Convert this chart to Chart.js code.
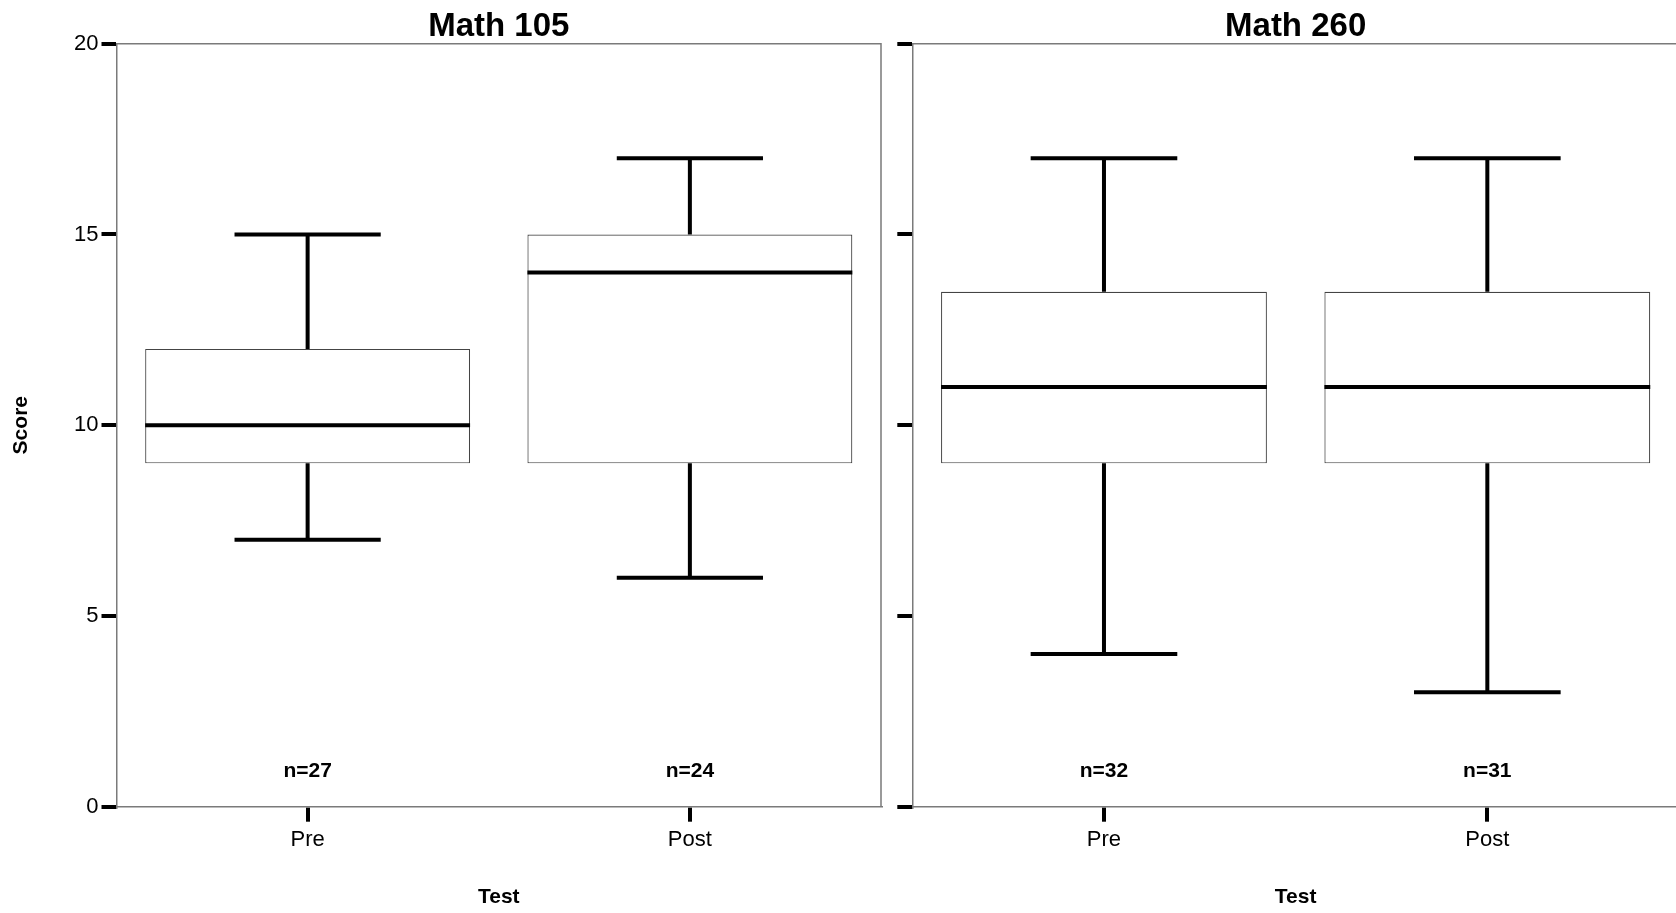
<!DOCTYPE html>
<html>
<head>
<meta charset="utf-8">
<title>Pre/Post test scores</title>
<script src="https://cdn.jsdelivr.net/npm/chart.js@4.4.1/dist/chart.umd.min.js"></script>
<style>
    html, body { margin: 0; padding: 0; background: #fff; overflow: hidden; }
    #wrap { position: relative; width: 1676px; height: 913px; overflow: hidden; }
    canvas { position: absolute; top: 0; }
    #leftChart { left: 0; }
    #rightChart { left: 897px; }
</style>
</head>
<body>
<div id="wrap">
    <canvas id="leftChart" width="897" height="913"></canvas>
    <canvas id="rightChart" width="782" height="913"></canvas>
</div>
<script>
// categories and panel names
const categories = ['Pre', 'Post'];
const panelTitles = ['Math 105', 'Math 260'];
const yTicks = [0, 5, 10, 15, 20];

// Math 105 box plot values
const math105Min = [7, 6];
const math105Q1 = [9, 9];
const math105Median = [10, 14];
const math105Q3 = [12, 15];
const math105Max = [15, 17];
const math105N = [27, 24];

// Math 260 box plot values
const math260Min = [4, 3];
const math260Q1 = [9, 9];
const math260Median = [11, 11];
const math260Q3 = [13.5, 13.5];
const math260Max = [17, 17];
const math260N = [32, 31];

const FONT = "'Liberation Sans', Arial, Helvetica, sans-serif";
const FRAME = '#7a7a7a';

// whiskers, medians and n= labels, drawn through the chart's scales
const boxExtras = {
    id: 'boxExtras',
    afterDatasetsDraw(chart, args, opts) {
        const ctx = chart.ctx;
        const x = chart.scales.x;
        const y = chart.scales.y;
        const bars = chart.getDatasetMeta(0).data;
        ctx.save();
        ctx.strokeStyle = '#000';
        ctx.lineWidth = 4;
        ctx.lineCap = 'butt';
        for (let i = 0; i < categories.length; i++) {
            const cx = x.getPixelForValue(i);
            const half = bars[i].width / 2;
            const cap = half * 0.45;
            const yMin = y.getPixelForValue(opts.min[i]);
            const yQ1 = y.getPixelForValue(opts.q1[i]);
            const yMed = y.getPixelForValue(opts.median[i]);
            const yQ3 = y.getPixelForValue(opts.q3[i]);
            const yMax = y.getPixelForValue(opts.max[i]);

            ctx.beginPath();
            // upper whisker
            ctx.moveTo(cx, yQ3);
            ctx.lineTo(cx, yMax);
            ctx.moveTo(cx - cap, yMax);
            ctx.lineTo(cx + cap, yMax);
            // lower whisker
            ctx.moveTo(cx, yQ1);
            ctx.lineTo(cx, yMin);
            ctx.moveTo(cx - cap, yMin);
            ctx.lineTo(cx + cap, yMin);
            // median
            ctx.moveTo(cx - half, yMed);
            ctx.lineTo(cx + half, yMed);
            ctx.stroke();

            ctx.fillStyle = '#000';
            ctx.font = 'bold 21px ' + FONT;
            ctx.textAlign = 'center';
            ctx.textBaseline = 'middle';
            ctx.fillText('n=' + opts.n[i], cx, y.getPixelForValue(0.92));
        }
        ctx.restore();
    }
};

// top and right edges of the panel frame
const frame = {
    id: 'frame',
    afterDraw(chart) {
        const a = chart.chartArea;
        const ctx = chart.ctx;
        ctx.save();
        ctx.strokeStyle = FRAME;
        ctx.lineWidth = 1.5;
        ctx.beginPath();
        ctx.moveTo(a.left, a.top);
        ctx.lineTo(a.right, a.top);
        ctx.lineTo(a.right, a.bottom);
        ctx.stroke();
        ctx.restore();
    }
};

function makePanel(canvasId, title, mins, q1s, medians, q3s, maxs, ns, isLeft) {
    const ctx = document.getElementById(canvasId).getContext('2d');
    return new Chart(ctx, {
        type: 'bar',
        data: {
            labels: categories,
            datasets: [{
                data: q1s.map((v, i) => [v, q3s[i]]),
                backgroundColor: '#ffffff',
                borderColor: '#444444',
                borderWidth: 1.2,
                borderSkipped: false,
                barPercentage: 0.85,
                categoryPercentage: 1.0
            }]
        },
        options: {
            responsive: false,
            animation: false,
            devicePixelRatio: 1,
            layout: { padding: { left: 0, right: isLeft ? 16 : 0, top: 0, bottom: 0 } },
            plugins: {
                legend: { display: false },
                tooltip: { enabled: false },
                title: {
                    display: true,
                    text: title,
                    fullSize: false,
                    color: '#000',
                    font: { family: FONT, size: 33, weight: 'bold', lineHeight: 1.0 },
                    padding: { top: 10.3, bottom: 0.4 }
                },
                boxExtras: { min: mins, q1: q1s, median: medians, q3: q3s, max: maxs, n: ns }
            },
            scales: {
                x: {
                    offset: true,
                    grid: {
                        offset: false,
                        drawOnChartArea: false,
                        drawTicks: true,
                        tickLength: 15,
                        tickWidth: 4,
                        lineWidth: 4,
                        tickColor: '#000'
                    },
                    border: { color: FRAME, width: 1.5 },
                    ticks: {
                        color: '#000',
                        padding: 5,
                        font: { family: FONT, size: 22 }
                    },
                    title: {
                        display: true,
                        text: 'Test',
                        color: '#000',
                        font: { family: FONT, size: 21, weight: 'bold' },
                        padding: { top: 0, bottom: 3 }
                    },
                    afterFit: (scale) => { scale.height = 106.3; }
                },
                y: {
                    min: 0,
                    max: 20,
                    afterBuildTicks: (scale) => { scale.ticks = yTicks.map(v => ({ value: v })); },
                    grid: {
                        drawOnChartArea: false,
                        drawTicks: true,
                        tickLength: 15,
                        tickWidth: 4,
                        lineWidth: 4,
                        tickColor: '#000'
                    },
                    border: { color: FRAME, width: 1.5 },
                    ticks: {
                        display: isLeft,
                        color: '#000',
                        padding: 3,
                        font: { family: FONT, size: 22 }
                    },
                    title: {
                        display: isLeft,
                        text: 'Score',
                        color: '#000',
                        font: { family: FONT, size: 21, weight: 'bold' },
                        padding: { top: 9, bottom: 0 }
                    },
                    afterFit: (scale) => { scale.width = isLeft ? 116.5 : 15.3; }
                }
            }
        },
        plugins: [boxExtras, frame]
    });
}

makePanel('leftChart', panelTitles[0], math105Min, math105Q1, math105Median, math105Q3, math105Max, math105N, true);
makePanel('rightChart', panelTitles[1], math260Min, math260Q1, math260Median, math260Q3, math260Max, math260N, false);
</script>
</body>
</html>
